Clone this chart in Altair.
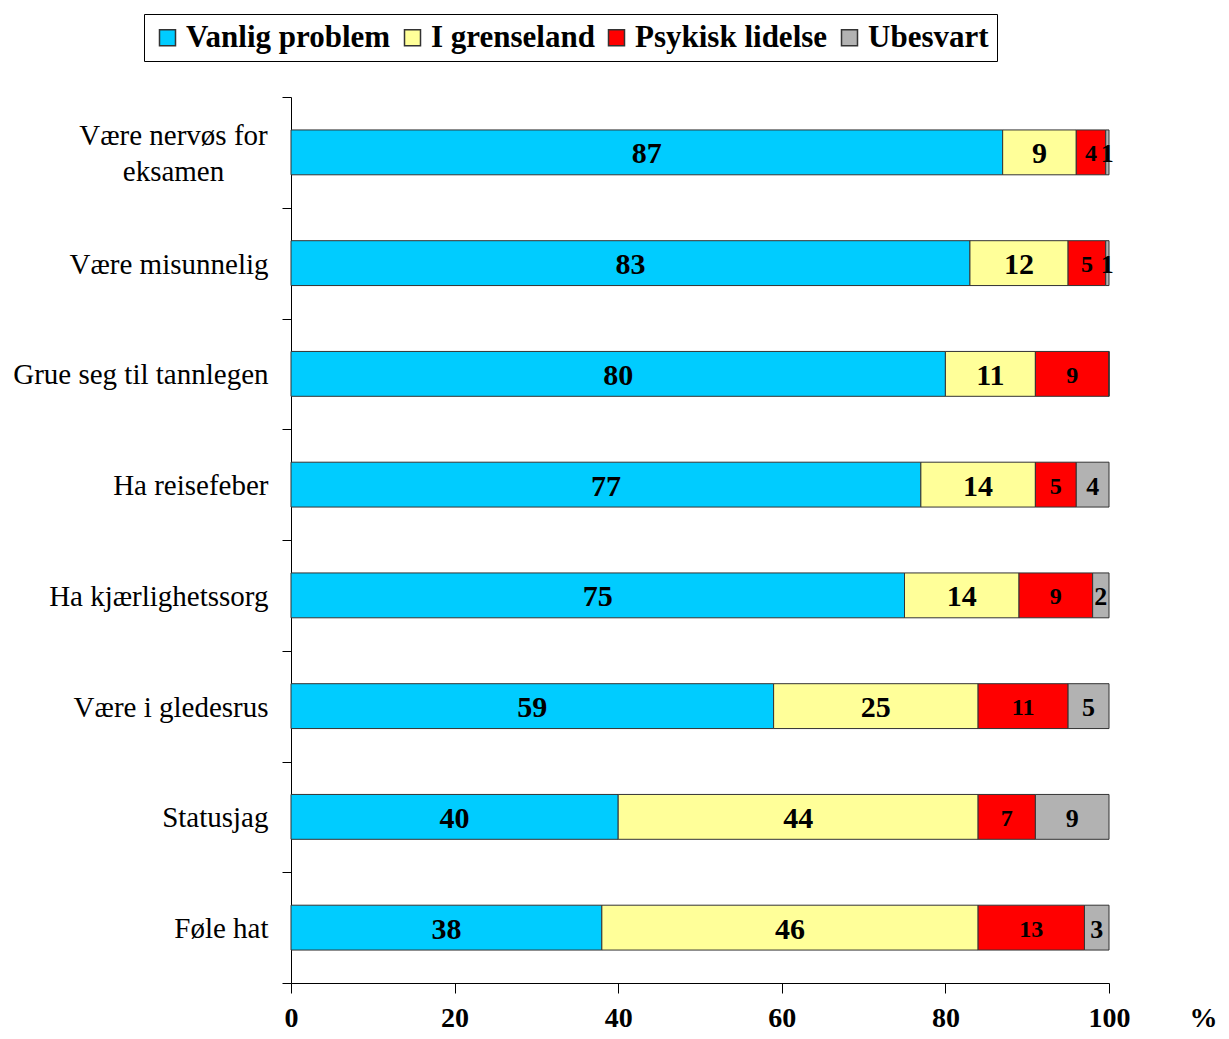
import altair as alt
import pandas as pd

categories = [
    "Være nervøs for eksamen",
    "Være misunnelig",
    "Grue seg til tannlegen",
    "Ha reisefeber",
    "Ha kjærlighetssorg",
    "Være i gledesrus",
    "Statusjag",
    "Føle hat",
]
series = ["Vanlig problem", "I grenseland", "Psykisk lidelse", "Ubesvart"]
colors = ["#00CCFF", "#FFFF99", "#FF0000", "#B2B2B2"]

# bar lengths (percent)
vanlig = [87, 83, 80, 77, 75, 59, 40, 38]
grense = [9, 12, 11, 14, 14, 25, 44, 46]
psyk = [3.6, 4.6, 9, 5, 9, 11, 7, 13]
ubes = [0.4, 0.4, 0, 4, 2, 5, 9, 3]

# printed data labels
lab_vanlig = ["87", "83", "80", "77", "75", "59", "40", "38"]
lab_grense = ["9", "12", "11", "14", "14", "25", "44", "46"]
lab_psyk = ["4", "5", "9", "5", "9", "11", "7", "13"]
lab_ubes = ["1", "1", "", "4", "2", "5", "9", "3"]

label_sizes = [30, 30, 24, 26]

rows = []
for si, (vals, labs) in enumerate(
    [(vanlig, lab_vanlig), (grense, lab_grense), (psyk, lab_psyk), (ubes, lab_ubes)]
):
    for ci, cat in enumerate(categories):
        rows.append(
            {
                "category": cat,
                "series": series[si],
                "order": si,
                "value": vals[ci],
                "label": labs[ci],
                "fsize": label_sizes[si],
            }
        )
df = pd.DataFrame(rows)

FONT = "Liberation Serif"
two_line = categories[0]
is_two = f"datum.value === '{two_line}'"

y_enc = alt.Y(
    "category:N",
    sort=categories,
    scale=alt.Scale(paddingInner=0, paddingOuter=0),
    axis=alt.Axis(
        title=None,
        tickBand="extent",
        labelFont=FONT,
        labelFontSize=29,
        labelColor="black",
        labelLimit=500,
        labelLineHeight=36,
        labelBaseline="middle",
        labelAlign={"condition": {"test": is_two, "value": "center"}, "value": "right"},
        labelPadding={"condition": {"test": is_two, "value": 109}, "value": 14},
        labelOffset={"condition": {"test": is_two, "value": -17}, "value": 1},
        labelExpr=f"{is_two} ? ['Være nervøs for', 'eksamen'] : datum.label",
        tickSize=9,
        tickColor="black",
        domainColor="black",
        domainWidth=1,
    ),
)

bars = (
    alt.Chart(df)
    .mark_bar(height={"band": 0.405}, stroke="#333333", strokeWidth=1)
    .encode(
        y=y_enc,
        x=alt.X(
            "value:Q",
            stack="zero",
            scale=alt.Scale(domain=[0, 100]),
            axis=alt.Axis(
                values=[0, 20, 40, 60, 80, 100],
                grid=False,
                title="%",
                titleFont=FONT,
                titleFontSize=28,
                titleFontWeight="bold",
                titleColor="black",
                titleX=912,
                titleY=21,
                titleBaseline="top",
                titleAlign="center",
                labelFont=FONT,
                labelFontSize=28,
                labelFontWeight="bold",
                labelColor="black",
                labelFlush=False,
                labelPadding=11,
                tickSize=10,
                tickColor="black",
                domainColor="black",
            ),
        ),
        color=alt.Color(
            "series:N",
            scale=alt.Scale(domain=series, range=colors),
            legend=alt.Legend(
                title=None,
                orient="none",
                legendX=-147,
                legendY=-83,
                direction="horizontal",
                strokeColor="black",
                fillColor="white",
                padding=8,
                symbolType="square",
                symbolSize=256,
                symbolStrokeColor="#333333",
                symbolStrokeWidth=1.5,
                symbolOpacity=1,
                labelFont=FONT,
                labelFontSize=31,
                labelFontWeight="bold",
                labelColor="black",
                labelLimit=400,
                labelOffset=3,
                columnPadding=6,
            ),
        ),
        order=alt.Order("order:Q"),
    )
)

texts = (
    alt.Chart(df)
    .transform_stack(
        stack="value",
        groupby=["category"],
        as_=["x0", "x1"],
        sort=[alt.SortField("order", order="ascending")],
    )
    .transform_filter("datum.label != ''")
    .transform_calculate(mid="(datum.x0 + datum.x1) / 2")
    .mark_text(font=FONT, fontWeight="bold", color="black", baseline="middle", align="center", dy=2)
    .encode(
        y=alt.Y("category:N", sort=categories),
        x=alt.X("mid:Q"),
        text="label:N",
        size=alt.Size("fsize:Q", scale=None, legend=None),
    )
)

chart = (
    alt.layer(bars, texts)
    .properties(
        width=818,
        height=886,
        autosize=alt.AutoSizeParams(type="none"),
        padding={"left": 283, "top": 89, "right": 112, "bottom": 48},
        background="white",
    )
    .configure_view(stroke=None)
)

chart.save("out.html", embed_options={"renderer": "svg", "actions": False})
